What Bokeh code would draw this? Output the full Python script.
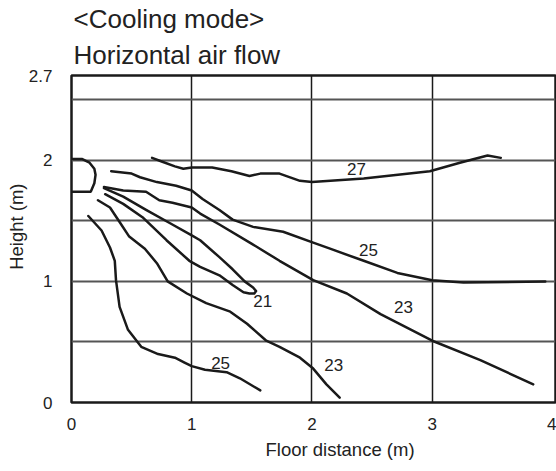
from bokeh.plotting import figure
from bokeh.models import FixedTicker, Range1d, Label, Title
from bokeh.embed import file_html
from bokeh.resources import INLINE

# ---- data ----
x_ticks = [0, 1, 2, 3, 4]
y_ticks = [0, 1, 2, 2.7]
x_grid = [1, 2, 3]
y_grid = [0.5, 1, 1.5, 2, 2.5]

nozzle_x = [0, 0.09, 0.15, 0.19, 0.2, 0.19, 0.16, 0]
nozzle_y = [2.01, 2.01, 1.98, 1.93, 1.88, 1.81, 1.74, 1.74]

c27_x = [0.67, 0.75, 0.86, 0.93, 1.0, 1.17, 1.33, 1.48, 1.57, 1.73, 1.9, 2.0, 2.43, 2.98, 3.23, 3.46, 3.57]
c27_y = [2.02, 1.99, 1.95, 1.93, 1.94, 1.94, 1.91, 1.87, 1.89, 1.89, 1.83, 1.82, 1.85, 1.91, 1.98, 2.04, 2.02]

c25_x = [0.33, 0.5, 0.57, 0.71, 0.87, 1.0, 1.09, 1.23, 1.34, 1.51, 1.76, 2.01, 2.15, 2.43, 2.71, 3.0, 3.26, 3.94]
c25_y = [1.91, 1.89, 1.86, 1.82, 1.79, 1.75, 1.68, 1.59, 1.51, 1.45, 1.41, 1.32, 1.27, 1.17, 1.07, 1.01, 0.99, 1.0]

c23a_x = [0.27, 0.43, 0.62, 0.73, 0.84, 1.0, 1.07, 1.23, 1.5, 1.73, 2.01, 2.29, 2.57, 3.0, 3.4, 3.84]
c23a_y = [1.78, 1.75, 1.74, 1.67, 1.65, 1.61, 1.56, 1.47, 1.31, 1.17, 1.01, 0.9, 0.73, 0.51, 0.35, 0.15]

c21_x = [0.27, 0.43, 0.62, 0.82, 1.0, 1.07, 1.23, 1.34, 1.44, 1.51, 1.535, 1.52, 1.48, 1.43, 1.34, 1.23, 1.07, 0.98, 0.79, 0.59, 0.43, 0.28]
c21_y = [1.77, 1.70, 1.59, 1.48, 1.38, 1.34, 1.20, 1.10, 1.00, 0.95, 0.92, 0.90, 0.90, 0.91, 0.97, 1.05, 1.12, 1.17, 1.34, 1.53, 1.64, 1.72]

c23b_x = [0.22, 0.32, 0.4, 0.48, 0.61, 0.71, 0.8, 0.96, 1.12, 1.32, 1.46, 1.62, 1.73, 1.9, 2.01, 2.12, 2.23]
c23b_y = [1.67, 1.61, 1.49, 1.37, 1.27, 1.15, 1.0, 0.9, 0.82, 0.75, 0.65, 0.51, 0.46, 0.37, 0.28, 0.15, 0.04]

c25b_x = [0.14, 0.25, 0.32, 0.36, 0.37, 0.4, 0.47, 0.58, 0.72, 0.86, 0.94, 1.0, 1.11, 1.29, 1.4, 1.57]
c25b_y = [1.54, 1.42, 1.28, 1.17, 1.01, 0.79, 0.6, 0.46, 0.40, 0.37, 0.33, 0.30, 0.27, 0.25, 0.20, 0.10]

label_text = ["27", "25", "23", "21", "23", "25"]
label_x = [2.37, 2.47, 2.76, 1.59, 2.18, 1.24]
label_y = [1.93, 1.26, 0.79, 0.84, 0.31, 0.33]

title_lines = ["<Cooling mode>", "Horizontal air flow"]
x_label = "Floor distance (m)"
y_label = "Height (m)"

FONT = "Liberation Sans"
TXT = "#222222"

p = figure(width=556, height=471, output_backend="svg", toolbar_location=None,
           x_range=Range1d(0, 4.025), y_range=Range1d(0, 2.7),
           min_border_left=71, min_border_right=1, min_border_top=75, min_border_bottom=69)
p.background_fill_color = "white"
p.border_fill_color = "white"
p.outline_line_color = "#1a1a1a"
p.outline_line_width = 2.5

p.add_layout(Title(text=title_lines[1], text_font=FONT, text_font_size="26px",
                   text_font_style="normal", text_color=TXT, align="left",
                   offset=2, standoff=11), "above")
p.add_layout(Title(text=title_lines[0], text_font=FONT, text_font_size="26px",
                   text_font_style="normal", text_color=TXT, align="left",
                   offset=2, standoff=-3), "above")

for ax in (p.xaxis, p.yaxis):
    ax.axis_line_color = None
    ax.major_tick_line_color = None
    ax.minor_tick_line_color = None
    ax.major_tick_out = 0
    ax.major_tick_in = 0
    ax.major_label_text_font = FONT
    ax.major_label_text_font_size = "17px"
    ax.major_label_text_color = TXT

p.xaxis.ticker = FixedTicker(ticks=x_ticks)
p.yaxis.ticker = FixedTicker(ticks=y_ticks)
p.xaxis.major_label_standoff = 15
p.yaxis.major_label_standoff = 19

# axis titles (placed off-centre as in the reference)
p.add_layout(Title(text=x_label, text_font=FONT, text_font_size="18.5px",
                   text_font_style="normal", text_color=TXT, align="left",
                   offset=194, standoff=8), "below")
p.add_layout(Title(text=y_label, text_font=FONT, text_font_size="18.5px",
                   text_font_style="normal", text_color=TXT, align="right",
                   offset=108, standoff=-3), "left")

p.xgrid.ticker = FixedTicker(ticks=x_grid)
p.ygrid.ticker = FixedTicker(ticks=y_grid)
p.xgrid.grid_line_color = "#1a1a1a"
p.xgrid.grid_line_width = 1.5
p.ygrid.grid_line_color = "#555555"
p.ygrid.grid_line_width = 1.8

lw = 2.5
col = "#1a1a1a"
p.line(nozzle_x, nozzle_y, line_width=lw, line_color=col)
for xs, ys in [(c27_x, c27_y), (c25_x, c25_y), (c23a_x, c23a_y), (c21_x, c21_y),
               (c23b_x, c23b_y), (c25b_x, c25b_y)]:
    p.line(xs, ys, line_width=lw, line_color=col, line_join="round", line_cap="round")

for t, x, y in zip(label_text, label_x, label_y):
    p.add_layout(Label(x=x, y=y, text=t, text_font=FONT, text_font_size="17px",
                       text_color=TXT, text_align="center", text_baseline="middle"))

open("out.html", "w").write(file_html(p, INLINE))
